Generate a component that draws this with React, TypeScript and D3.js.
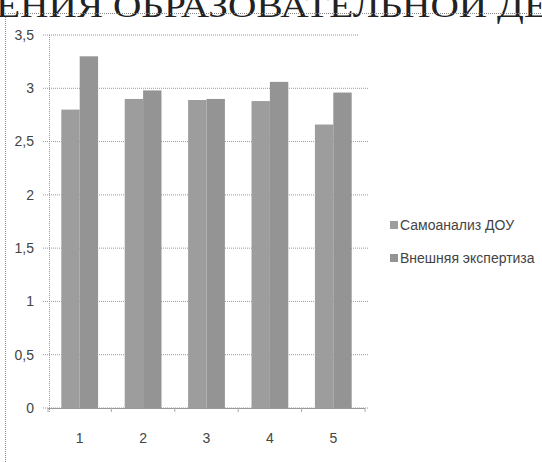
import React from "react";
import * as d3 from "d3";

const categories = ["1", "2", "3", "4", "5"];
const seriesNames = ["Самоанализ ДОУ", "Внешняя экспертиза"];
const selfAnalysis = [2.8, 2.9, 2.89, 2.88, 2.66];
const externalReview = [3.3, 2.98, 2.9, 3.06, 2.96];
const yTicks = [0, 0.5, 1, 1.5, 2, 2.5, 3, 3.5];
const titleFragment = "ЕНИЯ ОБРАЗОВАТЕЛЬНОЙ ДЕ";

const W = 542;
const H = 462;

export default function App() {
  const x = d3.scaleBand<string>().domain(categories).range([48, 365]).paddingInner(0).paddingOuter(0);
  const y = d3.scaleLinear().domain([0, 3.5]).range([408, 35]);
  const groupW = x.bandwidth() * 0.58;
  const sub = d3.scaleBand<number>().domain([0, 1]).range([0, groupW]).padding(0);
  const series = [selfAnalysis, externalReview];
  const fills = ["#9d9d9d", "#949494"];
  const font = "'Liberation Sans', sans-serif";
  const fmt = (v: number) => String(v).replace(".", ",");

  return (
    <svg width={W} height={H} style={{ position: "absolute", left: 0, top: 0, background: "#fff" }}>
      <rect width={W} height={H} fill="#fff" />
      {/* cropped title from page */}
      <text x={-4} y={17} fontFamily="'Liberation Serif', serif" fontSize={34} fill="#222" textLength={552} lengthAdjust="spacingAndGlyphs">
        {titleFragment}
      </text>
      {/* chart frame */}
      <line x1={8} x2={W} y1={13.5} y2={13.5} stroke="#888" strokeDasharray="1,1" />
      <line x1={5.5} x2={5.5} y1={13} y2={H} stroke="#888" strokeDasharray="1,1" />
      {/* gridlines */}
      {yTicks.map((t) => (
        <g key={t}>
          <line x1={43} x2={t === 3.5 ? 358 : 368} y1={y(t)} y2={y(t)} stroke="#9a9a9a" strokeDasharray="1,1" />
          <text x={34} y={y(t)} dy="0.35em" textAnchor="end" fontFamily={font} fontSize={14} fill="#444">
            {fmt(t)}
          </text>
        </g>
      ))}
      {/* y axis */}
      <line x1={49.5} x2={49.5} y1={35} y2={412} stroke="#9a9a9a" strokeDasharray="1,1" />
      {/* bars */}
      {categories.map((c, i) => {
        const gx = (x(c) as number) + (x.bandwidth() - groupW) / 2;
        return series.map((s, j) => (
          <rect
            key={c + j}
            x={gx + (sub(j) as number)}
            y={y(s[i])}
            width={sub.bandwidth()}
            height={y(0) - y(s[i])}
            fill={fills[j]}
          />
        ));
      })}
      {/* x axis */}
      <line x1={48} x2={365} y1={408.5} y2={408.5} stroke="#999" />
      {categories.map((c) => (
        <line key={"t" + c} x1={x(c) as number} x2={x(c) as number} y1={408} y2={412} stroke="#aaa" />
      ))}
      <line x1={365} x2={365} y1={408} y2={412} stroke="#aaa" />
      {categories.map((c) => (
        <text
          key={"l" + c}
          x={(x(c) as number) + x.bandwidth() / 2}
          y={438}
          dy="0.35em"
          textAnchor="middle"
          fontFamily={font}
          fontSize={14}
          fill="#444"
        >
          {c}
        </text>
      ))}
      {/* legend */}
      {seriesNames.map((n, j) => (
        <g key={n} transform={`translate(390, ${225 + j * 33})`}>
          <rect x={0} y={-4} width={8} height={8} fill={fills[j]} />
          <text x={10} y={0} dy="0.35em" fontFamily={font} fontSize={14} fill="#444">
            {n}
          </text>
        </g>
      ))}
    </svg>
  );
}
